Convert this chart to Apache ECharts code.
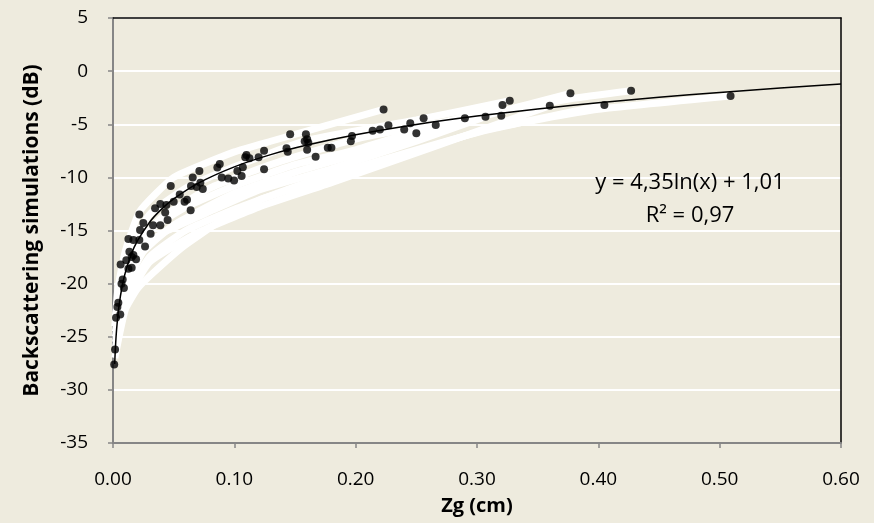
<!DOCTYPE html>
<html><head><meta charset="utf-8">
<script src="https://cdn.jsdelivr.net/npm/echarts@6/dist/echarts.min.js"></script>
<style>html,body{margin:0;padding:0;background:#EEEBDE;}#c{width:874px;height:523px;}</style>
</head><body><div id="c"></div>
<script>
// ---- data ----
const xTicks = [0, 0.1, 0.2, 0.3, 0.4, 0.5, 0.6];
const yTicks = [-35, -30, -25, -20, -15, -10, -5, 0, 5];

const points = [
 [0.001,-27.6],[0.0017,-26.2],[0.0025,-23.2],[0.006,-22.9],[0.0036,-22.2],[0.0044,-21.8],
 [0.007,-20.0],[0.009,-20.4],[0.008,-19.6],[0.0063,-18.2],[0.0127,-18.6],[0.0154,-18.5],
 [0.011,-17.8],[0.0154,-17.5],[0.0135,-17.0],[0.0168,-17.3],[0.019,-17.7],[0.0127,-15.8],
 [0.0168,-15.9],[0.0217,-15.9],[0.0264,-16.5],[0.0223,-14.95],[0.025,-14.3],[0.0217,-13.5],
 [0.031,-15.3],[0.033,-14.5],[0.039,-14.5],[0.0347,-12.9],[0.039,-12.5],[0.044,-12.6],
 [0.043,-13.3],[0.045,-14.0],[0.0476,-10.8],[0.05,-12.3],[0.055,-11.6],[0.059,-12.3],
 [0.061,-12.1],[0.064,-13.1],[0.0643,-10.8],[0.0657,-10.0],[0.0712,-9.4],[0.072,-10.5],
 [0.074,-11.1],[0.069,-10.9],[0.086,-9.06],[0.088,-8.74],[0.0896,-10.0],[0.095,-10.1],
 [0.0998,-10.3],[0.1025,-9.4],[0.106,-9.87],[0.107,-9.05],[0.109,-8.1],[0.11,-7.9],
 [0.1125,-8.2],[0.12,-8.1],[0.1245,-7.5],[0.1245,-9.24],[0.143,-7.27],[0.144,-7.58],
 [0.146,-5.95],[0.158,-6.6],[0.159,-5.95],[0.16,-6.4],[0.161,-6.73],[0.16,-7.4],
 [0.167,-8.05],[0.177,-7.2],[0.18,-7.2],[0.196,-6.6],[0.197,-6.1],[0.214,-5.6],
 [0.220,-5.5],[0.223,-3.6],[0.227,-5.1],[0.240,-5.5],[0.245,-4.9],[0.25,-5.85],
 [0.256,-4.44],[0.266,-5.07],[0.29,-4.44],[0.307,-4.29],[0.320,-4.2],[0.321,-3.19],
 [0.327,-2.78],[0.36,-3.25],[0.377,-2.09],[0.405,-3.19],[0.427,-1.84],[0.509,-2.34]
];

// white simulation curves
const sim1 = [[0.0015,-24],[0.004,-20.5],[0.01,-17],[0.022,-13.2],[0.05,-10],[0.1,-7.6],[0.13,-6.6],[0.223,-3.6]];
const sim2 = [[0.002,-24],[0.006,-20.5],[0.015,-16.5],[0.03,-13.5],[0.06,-11],[0.1,-9.0],[0.16,-6.5],[0.25,-4.6],[0.327,-2.78]];
const sim3 = [[0.002,-25],[0.008,-20.5],[0.02,-16.5],[0.04,-13.8],[0.08,-11],[0.13,-8.8],[0.2,-6.4],[0.3,-4.2],[0.377,-2.6],[0.427,-1.84]];
const sim4 = [[0.002,-25.5],[0.01,-20.5],[0.025,-17],[0.05,-14.5],[0.1,-11.5],[0.15,-9.5],[0.22,-7.2],[0.3,-4.4],[0.377,-2.09]];
const sim5 = [[0.002,-26],[0.01,-21.5],[0.03,-17.5],[0.06,-15],[0.1,-13],[0.16,-10.5],[0.25,-7.4],[0.31,-5.5],[0.405,-3.19]];
const sim6 = [[0.0015,-27],[0.01,-22.5],[0.02,-20.5],[0.033,-19],[0.058,-16.5],[0.086,-14.3],[0.121,-12.1],[0.2,-9.3],[0.308,-5.5],[0.4,-3.6],[0.509,-2.34]];
const sim7 = [[0.002,-26.5],[0.01,-22],[0.03,-18],[0.07,-15.2],[0.12,-12.8],[0.18,-10.5],[0.26,-7.3],[0.36,-3.25]];
const sim8 = [[0.002,-23],[0.01,-18.5],[0.03,-15],[0.06,-12.8],[0.1,-10.8],[0.15,-8.8],[0.2,-7.4],[0.266,-5.07],[0.321,-3.19]];
const sim9 = [[0.002,-24.5],[0.008,-19.5],[0.02,-16.8],[0.045,-15],[0.08,-13.2],[0.12,-11.2],[0.18,-9.2],[0.25,-6.6],[0.307,-4.29]];

// logarithmic trend line y = 4,35ln(x) + 1,01 (values read at these x)
const trendX = [0.0014,0.002,0.003,0.005,0.0075,0.01,0.015,0.02,0.03,0.04,0.05,0.07,0.1,0.13,0.16,0.2,0.25,0.3,0.35,0.4,0.45,0.5,0.55,0.6];
const trendY = [-27.57,-26.02,-24.26,-22.04,-20.27,-19.02,-17.26,-16.01,-14.24,-12.99,-12.02,-10.56,-9.01,-7.86,-6.96,-5.99,-5.02,-4.23,-3.56,-2.98,-2.46,-2.01,-1.59,-1.21];

const eqLine1 = 'y = 4,35ln(x) + 1,01';
const eqLine2 = 'R² = 0,97';
const xTitle = 'Zg (cm)';
const yTitle = 'Backscattering simulations (dB)';

// ---- chart ----
const chart = echarts.init(document.getElementById('c'));
const FONT = 'Open Sans';
const simSeries = [sim1, sim2, sim3, sim4, sim5, sim6, sim7, sim8, sim9].map(d => ({
  type: 'line', data: d, showSymbol: false, symbol: 'none', smooth: 0.15,
  lineStyle: { color: '#FFFFFF', width: 7 }, z: 2, silent: true
}));

chart.setOption({
  backgroundColor: '#EEEBDE',
  animation: false,
  textStyle: { fontFamily: FONT },
  grid: { left: 113, top: 18, right: 33, bottom: 80, show: false },
  xAxis: [{
    type: 'value', min: 0, max: 0.6, interval: 0.1,
    name: xTitle, nameLocation: 'middle', nameGap: 53,
    nameTextStyle: { fontFamily: FONT, fontWeight: 'bold', fontSize: 20, color: '#000' },
    axisLine: { show: true, onZero: false, lineStyle: { color: '#868686', width: 2 } },
    axisTick: { show: true, length: 5, lineStyle: { color: '#868686', width: 1.5 } },
    axisLabel: { fontSize: 19, color: '#000', margin: 27, formatter: v => v.toFixed(2) },
    splitLine: { show: false }
  }, {
    type: 'value', min: 0, max: 0.6, position: 'top',
    axisLine: { show: true, onZero: false, lineStyle: { color: '#000', width: 1.5 } },
    axisTick: { show: false }, axisLabel: { show: false }, splitLine: { show: false }
  }],
  yAxis: [{
    type: 'value', min: -35, max: 5, interval: 5,
    name: yTitle, nameLocation: 'middle', nameGap: 70, nameRotate: 90,
    nameTextStyle: { fontFamily: FONT, fontWeight: 'bold', fontSize: 21, color: '#000' },
    axisLine: { show: true, onZero: false, lineStyle: { color: '#868686', width: 2 } },
    axisTick: { show: true, length: 5, lineStyle: { color: '#868686', width: 1.5 } },
    axisLabel: { fontSize: 19, color: '#000', margin: 25 },
    splitLine: { show: true, lineStyle: { color: '#FFFFFF', width: 2 } }
  }, {
    type: 'value', min: -35, max: 5, position: 'right',
    axisLine: { show: true, onZero: false, lineStyle: { color: '#000', width: 1.5 } },
    axisTick: { show: false }, axisLabel: { show: false }, splitLine: { show: false }
  }],
  series: [
    ...simSeries,
    {
      type: 'line', data: trendX.map((x, i) => [x, trendY[i]]), showSymbol: false, symbol: 'none',
      smooth: 0.3, lineStyle: { color: '#000', width: 1.5 }, z: 3, silent: true
    },
    {
      type: 'scatter', data: points, symbol: 'circle', symbolSize: 8,
      itemStyle: { color: '#000' }, z: 4
    }
  ],
  graphic: [{
    type: 'text', x: 690, y: 183, z: 10,
    style: { text: eqLine1, align: 'center', verticalAlign: 'middle', font: '22px "Open Sans"', fill: '#000' }
  }, {
    type: 'text', x: 690, y: 216, z: 10,
    style: { text: eqLine2, align: 'center', verticalAlign: 'middle', font: '22px "Open Sans"', fill: '#000' }
  }]
});
</script>
</body></html>
